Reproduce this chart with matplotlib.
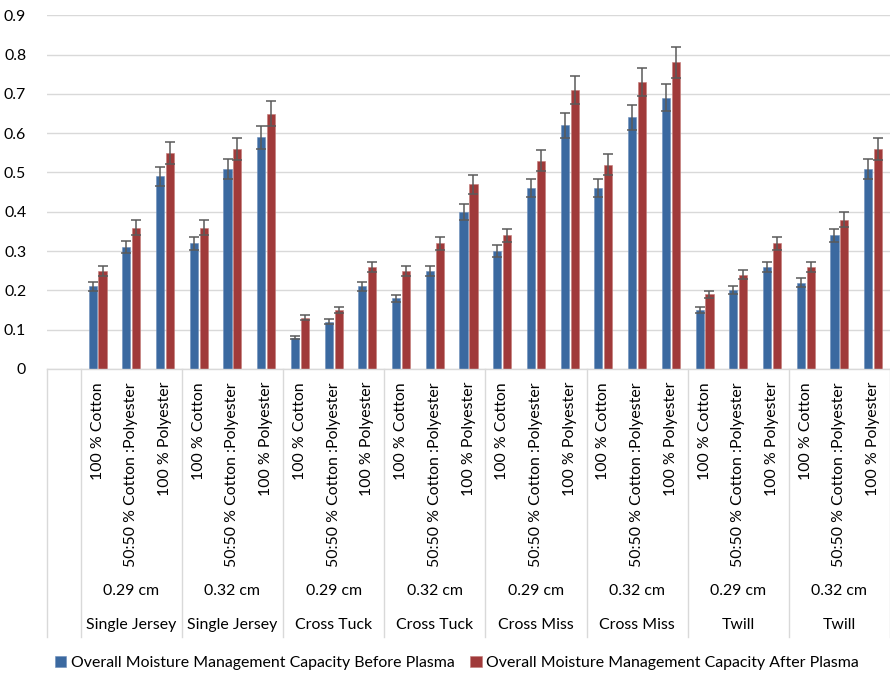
import matplotlib
matplotlib.use("Agg")
import matplotlib.pyplot as plt
import numpy as np

fabrics = ["100 % Cotton", "50:50 % Cotton :Polyester", "100 % Polyester"]
thickness = ["0.29 cm", "0.32 cm", "0.29 cm", "0.32 cm", "0.29 cm", "0.32 cm", "0.29 cm", "0.32 cm"]
structures = ["Single Jersey", "Single Jersey", "Cross Tuck", "Cross Tuck",
              "Cross Miss", "Cross Miss", "Twill", "Twill"]

before = [0.21, 0.31, 0.49, 0.32, 0.51, 0.59,
          0.08, 0.12, 0.21, 0.18, 0.25, 0.40,
          0.30, 0.46, 0.62, 0.46, 0.64, 0.69,
          0.15, 0.20, 0.26, 0.22, 0.34, 0.51]
after = [0.25, 0.36, 0.55, 0.36, 0.56, 0.65,
         0.13, 0.15, 0.26, 0.25, 0.32, 0.47,
         0.34, 0.53, 0.71, 0.52, 0.73, 0.78,
         0.19, 0.24, 0.32, 0.26, 0.38, 0.56]
error_pct = 0.05  # percentage error bars

series_names = ["Overall Moisture Management Capacity Before Plasma",
                "Overall Moisture Management Capacity After Plasma"]
colors = ["#3b69a0", "#a03a3a"]

plt.rcParams['font.family'] = ['Lato', 'DejaVu Sans']
FS = 11.4

W, H = 890, 674
fig = plt.figure(figsize=(W/100, H/100), dpi=100)
ax = fig.add_axes([47/W, 1-369/H, (890-47)/W, (369-15.3)/H])

n = len(before)
x = np.arange(n) + 1  # position 0 is the empty leading column
b = np.array(before); a = np.array(after)
bw = 0.24
off = 0.147
ek = dict(ecolor="#5a5a5a", elinewidth=1.1, capsize=3.5, capthick=1.1)
ax.bar(x-off, b, bw, color=colors[0], edgecolor="#6d8fbb", linewidth=0.4,
       yerr=b*error_pct, error_kw=ek, label=series_names[0], zorder=3)
ax.bar(x+off, a, bw, color=colors[1], edgecolor="#c47a78", linewidth=0.4,
       yerr=a*error_pct, error_kw=ek, label=series_names[1], zorder=3)

ax.set_xlim(-0.5, n+0.5)
ax.set_ylim(0, 0.9)
ax.set_yticks(np.arange(0, 0.91, 0.1))
ax.set_yticklabels(["0"] + [f"{v:.1f}" for v in np.arange(0.1, 0.91, 0.1)], fontsize=FS, color="#000000")
ax.tick_params(axis='y', length=0, pad=15)
ax.set_xticks([])
ax.grid(axis='y', color="#d9d9d9", linewidth=1.0, zorder=0)
for s in ["left", "right", "top"]:
    ax.spines[s].set_visible(False)
ax.spines["bottom"].set_color("#d9d9d9")
ax.spines["bottom"].set_linewidth(1.0)
ax.spines["bottom"].set_zorder(4)

tr = ax.get_xaxis_transform()
ah = 369-15.3
ybot = -(637-369)/ah
seps = [-0.5, 0.5] + [0.5 + 3*(k+1) for k in range(len(structures))]
for s in seps:
    ax.plot([s, s], [0, ybot], transform=tr, color="#d9d9d9", lw=1.0, clip_on=False)

y_rot = -(382-369)/ah
y_th = -(590.7-369)/ah
y_st = -(625-369)/ah
for i in range(n):
    ax.text(x[i], y_rot, fabrics[i % 3], transform=tr, rotation=90, ha='center', va='top',
            fontsize=FS, rotation_mode='default')
for g in range(len(structures)):
    cx = 3*g + 2
    ax.text(cx, y_th, thickness[g], transform=tr, ha='center', va='center', fontsize=FS)
    ax.text(cx, y_st, structures[g], transform=tr, ha='center', va='center', fontsize=FS)

leg = fig.legend(loc='center', bbox_to_anchor=(457/W, 1-662.7/H), ncol=2, frameon=False,
                 fontsize=FS, handlelength=0.7, handleheight=0.7, handletextpad=0.3,
                 columnspacing=1.0, borderpad=0)
fig.savefig("out.png", dpi=100)
